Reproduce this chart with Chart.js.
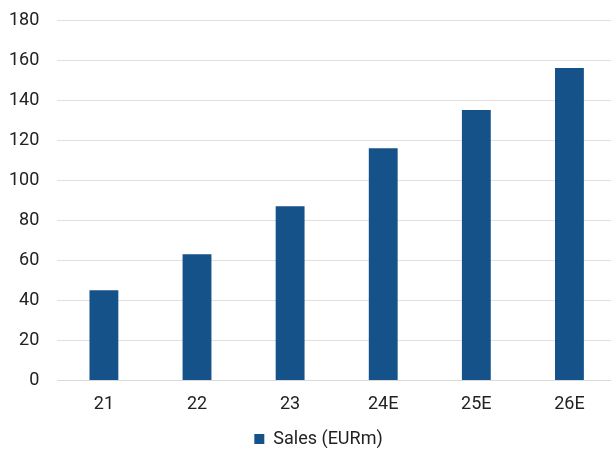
<!DOCTYPE html>
<html>
<head>
<meta charset="utf-8">
<script src="https://cdn.jsdelivr.net/npm/chart.js@4"></script>
<style>
  html, body { margin: 0; padding: 0; background: #fff; overflow: hidden; }
  #wrap { width: 636px; height: 458px; }
</style>
</head>
<body>
<div id="wrap"><canvas id="salesChart"></canvas></div>
<script>
const years = ["21", "22", "23", "24E", "25E", "26E"];
const sales = [45, 63, 87, 116, 135, 156];
const seriesName = "Sales (EURm)";

// nudge the legend a little to the right of the canvas centre
const legendShift = {
  id: "legendShift",
  afterLayout(chart) {
    if (chart.legend) {
      chart.legend.left += 6;
      chart.legend.right += 6;
    }
  }
};

const ctx = document.getElementById('salesChart');

new Chart(ctx, {
  type: "bar",
  data: {
    labels: years,
    datasets: [{
      label: seriesName,
      data: sales,
      backgroundColor: "#15528a",
      barPercentage: 0.31,
      categoryPercentage: 1
    }]
  },
  plugins: [legendShift],
  options: {
    responsive: true,
    maintainAspectRatio: false,
    animation: false,
    layout: {
      padding: { left: 9, right: 20, top: 20, bottom: 0 }
    },
    plugins: {
      legend: {
        position: "bottom",
        labels: {
          color: "#222",
          font: { family: "Roboto", size: 18 },
          boxWidth: 10,
          boxHeight: 10,
          padding: 15
        }
      },
      tooltip: { enabled: false }
    },
    scales: {
      x: {
        grid: { color: "transparent", drawTicks: true, tickLength: 13 },
        border: { color: "#d9d9d9", width: 1 },
        ticks: {
          color: "#222",
          font: { family: "Roboto", size: 18 },
          padding: 0
        }
      },
      y: {
        min: 0,
        max: 180,
        grid: { color: "#e0e0e0", lineWidth: 1, drawTicks: true, tickLength: 18, tickColor: "transparent" },
        border: { display: false },
        ticks: {
          stepSize: 20,
          color: "#222",
          font: { family: "Roboto", size: 18 },
          padding: 0
        }
      }
    }
  }
});
</script>
</body>
</html>
